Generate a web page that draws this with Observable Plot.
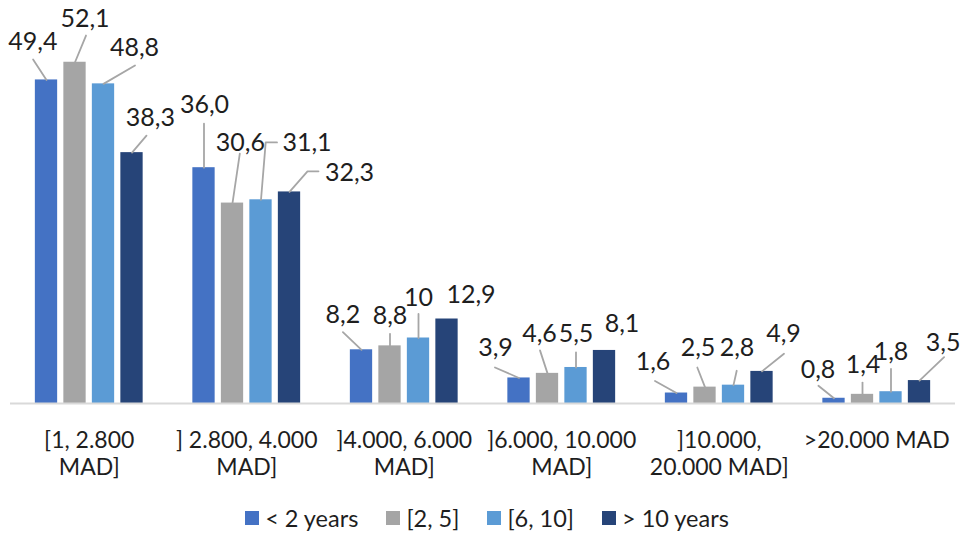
<!DOCTYPE html>
<html><head><meta charset="utf-8">
<script src="https://cdn.jsdelivr.net/npm/d3@7"></script>
<script src="https://cdn.jsdelivr.net/npm/@observablehq/plot@0.6"></script>
<style>
body{margin:0;background:#fff;font-family:Lato,sans-serif;}
#chart{position:relative;width:964px;height:533px;overflow:hidden;}
#legend{position:absolute;left:5px;top:505px;width:964px;height:26px;display:flex;justify-content:center;align-items:center;font-size:23.5px;color:#1e1e1e;}
.item{display:flex;align-items:center;margin:0 14px;white-space:pre;}
.sw{width:14px;height:14px;margin-right:6px;}
</style></head><body><div id="chart"></div>
<script>
// ---- data ----
const categories = ["[1, 2.800\nMAD]", "] 2.800, 4.000\nMAD]", "]4.000, 6.000\nMAD]", "]6.000, 10.000\nMAD]", "]10.000,\n20.000 MAD]", ">20.000 MAD"];
const seriesNames = ["< 2 years", "[2, 5]", "[6, 10]", "> 10 years"];
const lessThan2 = [49.4, 36.0, 8.2, 3.9, 1.6, 0.8];
const from2to5 = [52.1, 30.6, 8.8, 4.6, 2.5, 1.4];
const from6to10 = [48.8, 31.1, 10, 5.5, 2.8, 1.8];
const over10 = [38.3, 32.3, 12.9, 8.1, 4.9, 3.5];
const labelsLessThan2 = ["49,4", "36,0", "8,2", "3,9", "1,6", "0,8"];
const labels2to5 = ["52,1", "30,6", "8,8", "4,6", "2,5", "1,4"];
const labels6to10 = ["48,8", "31,1", "10", "5,5", "2,8", "1,8"];
const labelsOver10 = ["38,3", "32,3", "12,9", "8,1", "4,9", "3,5"];

// ---- style / layout ----
const colors = ["#4472C4", "#A5A5A5", "#5B9BD5", "#264478"];
const W = 964, H = 490, mL = 10, mR = 9, mT = 10, mB = 87;
const yMax = 60;
const kx = (W - mL - mR) / categories.length;   // px per category
const ky = (H - mT - mB) / yMax;                // px per value unit
const barPitch = 28.5, barWidth = 22.3;          // px
// label offsets (px) from bar top: text centre, then leader points
const labelLayout = [
  [{t:[-13.7,-37.7],p:[[-13.4,-20.4]]},{t:[0.5,-62.9],p:[[0,-44]]},{t:[-18.6,-35],p:[[-18.6,-17.7]]},{t:[-23.5,-30],p:[[-24,-10.5]]},{t:[-23.5,-31],p:[[-21.5,-12]]},{t:[-16,-28.5],p:[[-15.6,-12.5]]}],
  [{t:[10,-43.7],p:[[11,-26.7]]},{t:[7.8,-60.4],p:[[7.3,-49.4]]},{t:[0,-30],p:[[0,-12]]},{t:[-8,-39],p:[[-7.5,-23]]},{t:[-7,-38.8],p:[[-7.7,-19.6]]},{t:[0.5,-29.5],p:[[0,-11.8]]}],
  [{t:[31,-35.8],p:[[31.5,-18.3]]},{t:[46,-57],p:[[4.7,-57.4],[16,-57.4]]},{t:[0,-39.7],p:[[0,-24]]},{t:[0,-33],p:[[0,-15]]},{t:[3.5,-37],p:[[3.2,-14.4]]},{t:[0,-40],p:[[0,-22.7]]}],
  [{t:[18.3,-34.5],p:[[14.5,-17]]},{t:[60,-19.3],p:[[18,-20.6],[29,-20.6]]},{t:[24,-24],p:[]},{t:[17.5,-26.5],p:[]},{t:[21.5,-37],p:[[22,-17.6]]},{t:[23.6,-37.6],p:[[24.6,-23.4]]}]
];

const seriesValues = [lessThan2, from2to5, from6to10, over10];
const seriesLabels = [labelsLessThan2, labels2to5, labels6to10, labelsOver10];

const rows = [];
seriesValues.forEach((vals, j) => vals.forEach((v, i) => {
  rows.push({cat: i, s: j, series: seriesNames[j], value: v, label: seriesLabels[j][i],
             xc: i + (j - 1.5) * barPitch / kx, lay: labelLayout[j][i]});
}));
const leaders = [];
rows.forEach((d, k) => {
  if (!d.lay.p.length) return;
  leaders.push({id: k, x: d.xc, y: d.value});
  d.lay.p.forEach(([px, py]) => leaders.push({id: k, x: d.xc + px / kx, y: d.value - py / ky}));
});

const chart = Plot.plot({
  width: W, height: H, marginLeft: mL, marginRight: mR, marginTop: mT, marginBottom: mB,
  style: {fontFamily: "Lato, sans-serif", color: "#1e1e1e", background: "#fff"},
  x: {domain: [-0.5, categories.length - 0.5], axis: null},
  y: {domain: [0, yMax], axis: null},
  color: {domain: seriesNames, range: colors},
  marks: [
    Plot.rect(rows, {x1: d => d.xc - barWidth / 2 / kx, x2: d => d.xc + barWidth / 2 / kx, y1: d => 0, y2: "value", fill: "series"}),
    Plot.ruleY([0], {stroke: "#D9D9D9", strokeWidth: 2}),
    Plot.line(leaders, {x: "x", y: "y", z: "id", stroke: "#A6A6A6", strokeWidth: 1.8}),
    Plot.text(rows, {x: d => d.xc + d.lay.t[0] / kx, y: d => d.value - d.lay.t[1] / ky, text: "label", fontSize: 25, fill: "#1e1e1e"}),
    Plot.axisX({ticks: d3.range(categories.length), tickFormat: i => categories[i], tickSize: 0, tickPadding: 25, fontSize: 23, lineHeight: 1.17, label: null})
  ]
});
const host = document.getElementById("chart");
host.appendChild(chart);
const legend = document.createElement("div");
legend.id = "legend";
seriesNames.forEach((name, j) => {
  const it = document.createElement("div"); it.className = "item";
  const sw = document.createElement("span"); sw.className = "sw"; sw.style.background = colors[j];
  const tx = document.createElement("span"); tx.textContent = name;
  it.appendChild(sw); it.appendChild(tx); legend.appendChild(it);
});
host.appendChild(legend);
</script></body></html>
